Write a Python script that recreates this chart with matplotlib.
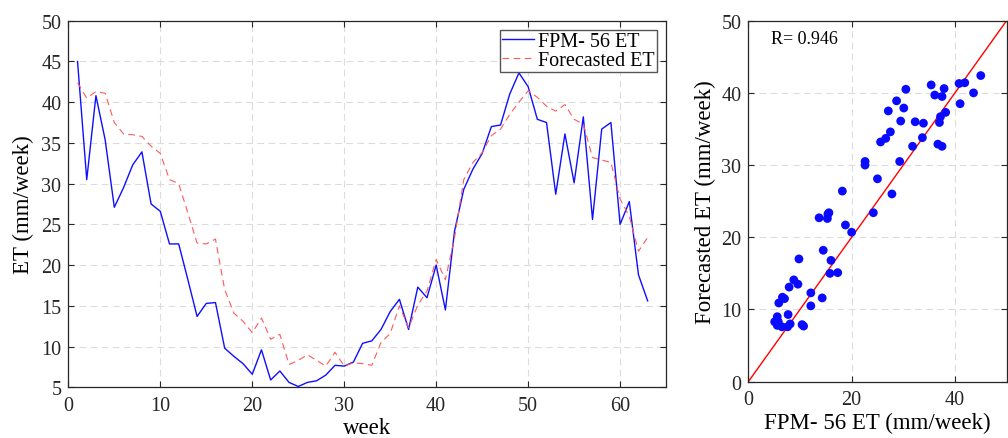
import numpy as np
import matplotlib
matplotlib.use("Agg")
import matplotlib.pyplot as plt

plt.rcParams["font.family"] = ["Liberation Serif", "DejaVu Serif"]
plt.rcParams["axes.edgecolor"] = "#262626"
plt.rcParams["xtick.color"] = "#262626"
plt.rcParams["ytick.color"] = "#262626"

weeks = list(range(1, 64))
fpm56_et = [45.0, 30.5, 40.8, 35.4, 27.1, 29.5, 32.3, 33.9, 27.5, 26.6,
            22.6, 22.6, 18.2, 13.7, 15.3, 15.4, 9.8, 8.8, 7.9, 6.6,
            9.6, 5.9, 7.0, 5.6, 5.1, 5.6, 5.8, 6.5, 7.7, 7.6,
            8.1, 10.4, 10.7, 12.1, 14.3, 15.8, 12.1, 17.3, 16.0, 20.0,
            14.5, 24.2, 29.3, 31.8, 33.7, 37.0, 37.2, 41.0, 43.6, 41.9,
            37.9, 37.5, 28.7, 36.1, 30.1, 38.2, 25.6, 36.7, 37.5, 25.0,
            27.8, 18.8, 15.6]
forecast_et = [42.4, 40.5, 41.3, 41.1, 37.5, 36.1, 36.0, 35.8, 34.6, 33.7,
               30.5, 30.0, 26.4, 22.7, 22.6, 23.2, 17.0, 14.1, 13.1, 11.7,
               13.5, 10.9, 11.5, 7.8, 8.3, 9.0, 8.3, 7.6, 9.3, 7.6,
               8.0, 7.9, 7.7, 10.5, 11.6, 15.0, 12.3, 15.1, 16.8, 20.7,
               18.2, 23.4, 30.5, 32.6, 33.8, 35.9, 36.7, 38.5, 40.0, 41.4,
               40.6, 39.5, 38.9, 39.7, 37.9, 37.3, 33.2, 32.9, 32.6, 28.1,
               26.0, 21.7, 23.4]
r_value = 0.946

grid_kw = dict(color="#dcdcdc", linestyle=(0, (6, 4)), linewidth=0.8)


def style_axes(ax):
    ax.tick_params(direction="in", top=True, right=True, labelsize=14.5,
                   length=4, width=0.8)
    ax.tick_params(axis="x", pad=6)
    ax.tick_params(axis="y", pad=5)
    ax.grid(True, **grid_kw)
    ax.set_axisbelow(True)
    for s in ax.spines.values():
        s.set_linewidth(0.9)


fig = plt.figure(figsize=(10.08, 4.39), dpi=100)

# time series
ax1 = fig.add_axes([0.0678, 0.1155, 0.593, 0.835])
ax1.plot(weeks, fpm56_et, color="#0f0fff", linewidth=1.0, label="FPM- 56 ET")
ax1.plot(weeks, forecast_et, color="#ff5a5a", linewidth=0.8,
         linestyle=(0, (6, 4)), label="Forecasted ET")
ax1.set_xlim(0, 65)
ax1.set_ylim(5, 50)
ax1.set_xticks(np.arange(0, 61, 10))
ax1.set_yticks(np.arange(5, 51, 5))
style_axes(ax1)
ax1.set_xlabel("week", fontsize=16.5, labelpad=2)
ax1.set_ylabel("ET (mm/week)", fontsize=16.5, labelpad=5)
leg = ax1.legend(loc="upper right", fontsize=14.5, fancybox=False,
                 edgecolor="#555555", framealpha=1, handlelength=1.6,
                 handletextpad=0.2, borderpad=0.1, labelspacing=0.0,
                 borderaxespad=0.45)
leg.get_frame().set_linewidth(1.0)

# scatter
ax2 = fig.add_axes([0.7424, 0.1283, 0.2562, 0.8223])
ax2.plot([0, 50], [0, 50], color="red", linewidth=1.0)
ax2.scatter(fpm56_et, forecast_et, s=40, color="#0a0aff", edgecolors="none",
            zorder=3)
ax2.set_xlim(0, 50)
ax2.set_ylim(0, 50)
ax2.set_xticks([0, 20, 40])
ax2.set_yticks(np.arange(0, 51, 10))
style_axes(ax2)
ax2.text(4.4, 47.6, f"R= {r_value}", fontsize=13, ha="left", va="center")
ax2.set_xlabel("FPM- 56 ET (mm/week)", fontsize=16.5, labelpad=2)
ax2.set_ylabel("Forecasted ET (mm/week)", fontsize=16.5, labelpad=4)

fig.savefig("out.png", dpi=100)
